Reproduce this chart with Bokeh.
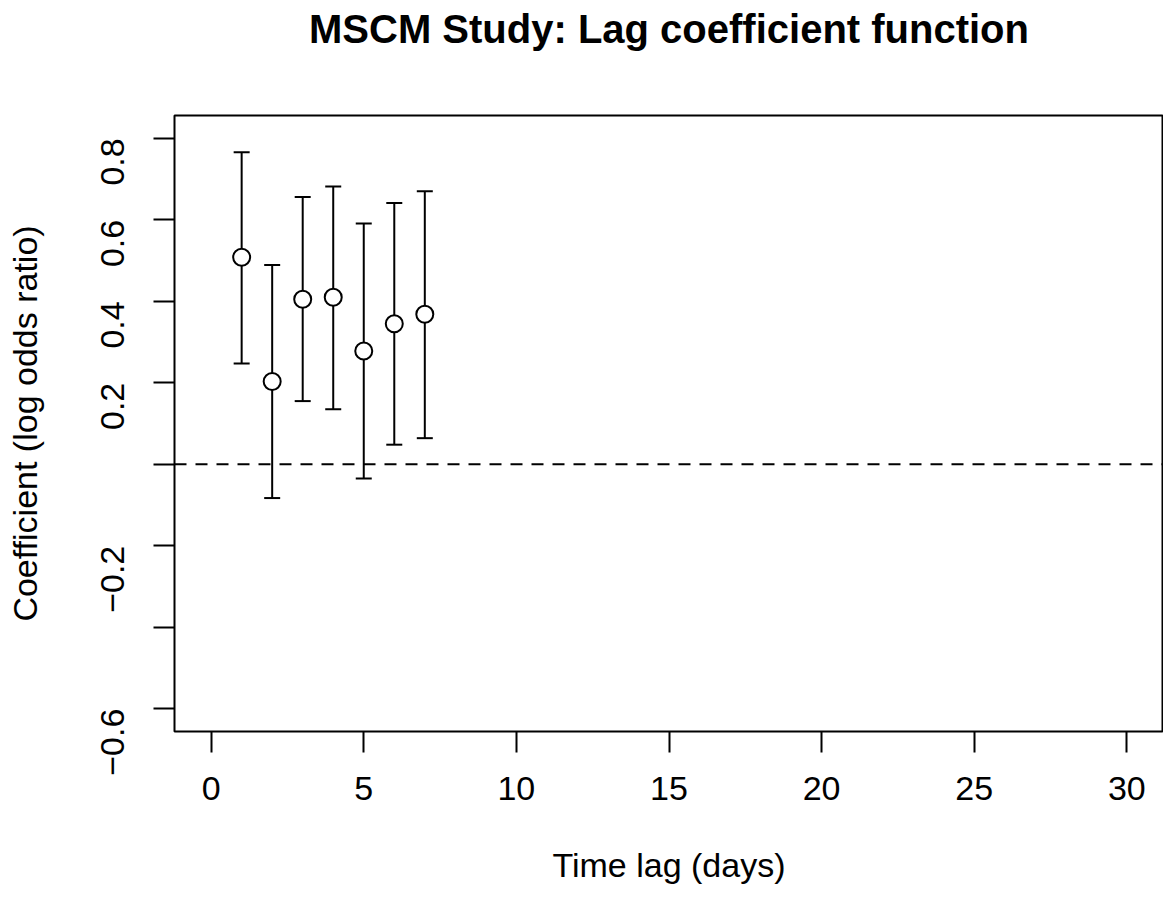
import math
from bokeh.plotting import figure
from bokeh.models import Range1d, FixedTicker, Span, Whisker, TeeHead, ColumnDataSource, Title
from bokeh.embed import file_html
from bokeh.resources import INLINE

# Data
lags = [1, 2, 3, 4, 5, 6, 7]
coef = [0.508, 0.203, 0.405, 0.410, 0.278, 0.345, 0.368]
upper = [0.766, 0.489, 0.656, 0.682, 0.591, 0.641, 0.670]
lower = [0.247, -0.083, 0.155, 0.135, -0.035, 0.048, 0.064]

x_ticks = [0, 5, 10, 15, 20, 25, 30]
y_ticks = [-0.6, -0.4, -0.2, 0, 0.2, 0.4, 0.6, 0.8]
y_tick_labels = ["\u22120.6", "", "\u22120.2", "", "0.2", "0.4", "0.6", "0.8"]
title_text = "MSCM Study: Lag coefficient function"

FONT = "Liberation Sans"

p = figure(width=1163, height=897, output_backend="svg", toolbar_location=None,
           x_range=Range1d(-1.2, 31.2), y_range=Range1d(-0.656, 0.856),
           min_border_left=174, min_border_right=0, min_border_top=115, min_border_bottom=166,
           title=None)

# spacer between plot box and title, then the title itself (further from the frame)
p.add_layout(Title(text=" ", text_font_size="1px", standoff=60), "above")
p.add_layout(Title(text=title_text, align="center", vertical_align="top",
                   text_font=FONT, text_font_style="bold", text_font_size="40px",
                   text_color="black", standoff=0), "above")

p.grid.visible = False
p.outline_line_color = "black"
p.outline_line_width = 2
p.outline_line_alpha = 1.0
p.background_fill_color = "white"
p.border_fill_color = "white"

for ax in (p.xaxis[0], p.yaxis[0]):
    ax.axis_line_color = None
    ax.major_tick_line_color = "black"
    ax.major_tick_line_width = 2
    ax.major_tick_out = 21
    ax.major_tick_in = 0
    ax.minor_tick_line_color = None
    ax.major_label_text_font = FONT
    ax.major_label_text_font_size = "34px"
    ax.major_label_text_color = "black"
    ax.axis_label_text_font = FONT
    ax.axis_label_text_font_size = "34px"
    ax.axis_label_text_font_style = "normal"
    ax.axis_label_text_color = "black"

p.xaxis.ticker = FixedTicker(ticks=x_ticks)
p.yaxis.ticker = FixedTicker(ticks=y_ticks)
p.yaxis.major_label_overrides = {t: l for t, l in zip(y_ticks, y_tick_labels)}
p.yaxis.major_label_orientation = math.pi / 2
p.xaxis.major_label_standoff = 24
p.yaxis.major_label_standoff = 41
p.xaxis.axis_label = "Time lag (days)"
p.yaxis.axis_label = "Coefficient (log odds ratio)"
p.xaxis.axis_label_standoff = 43
p.yaxis.axis_label_standoff = 43

p.add_layout(Span(location=0, dimension="width", line_color="black",
                  line_width=2, line_dash="12 9"))

src = ColumnDataSource(dict(x=lags, y=coef, upper=upper, lower=lower))
w = Whisker(base="x", upper="upper", lower="lower", source=src,
            line_color="black", line_width=2,
            upper_head=TeeHead(size=16, line_width=2, line_color="black"),
            lower_head=TeeHead(size=16, line_width=2, line_color="black"))
p.add_layout(w)

p.scatter(x="x", y="y", source=src, marker="circle", size=17,
          fill_color="white", line_color="black", line_width=2)

open("out.html", "w").write(file_html(p, INLINE))
